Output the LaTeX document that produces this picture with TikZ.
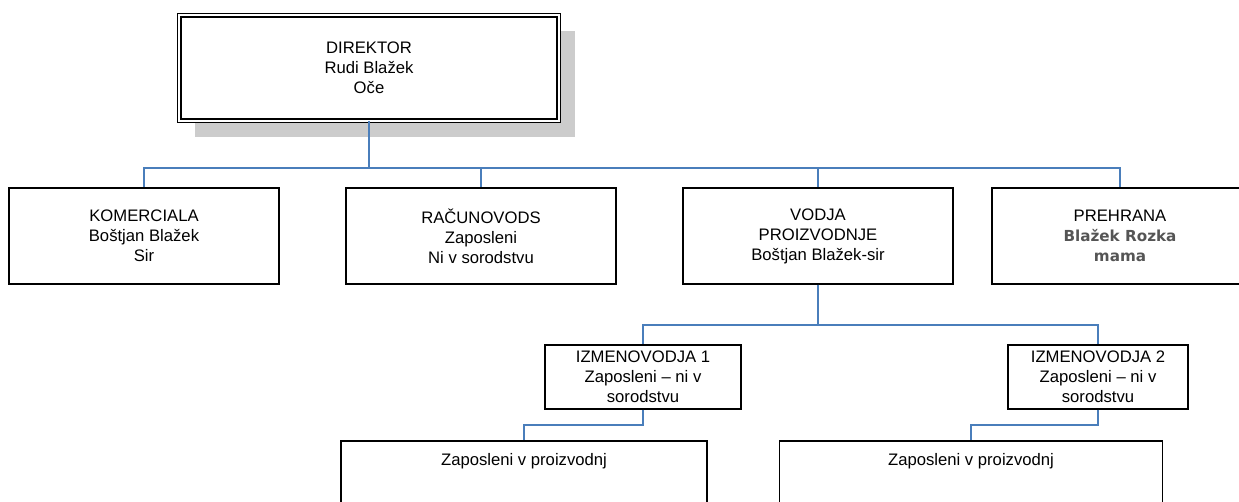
\documentclass[tikz,border=0pt]{standalone}
\usepackage{fontspec}
\setmainfont{Liberation Sans}
\newfontfamily\greyfont{DejaVu Sans}
\usetikzlibrary{shadows}
\definecolor{linkblue}{HTML}{4A7EBB}
\definecolor{namegrey}{HTML}{555555}

\begin{document}
\begin{tikzpicture}[x=0.75pt, y=-0.75pt,
    box/.style={draw, fill=white, line width=0.9pt, align=center, inner sep=0pt,
        font=\fontsize{12.5}{15}\selectfont},
    headbox/.style={box, double, double distance=1.6pt,
        general shadow={fill=black!20, shadow xshift=12pt, shadow yshift=-12pt}},
    link/.style={draw=linkblue, line width=1.1pt}]
    \useasboundingbox (0,0) rectangle (1239,501);
    \clip (0,0) rectangle (1239,501);

    \node[headbox, minimum width=284.6pt, minimum height=79pt] (dir) at (369,68)
        {DIREKTOR\\Rudi Blažek\\Oče};

    \node[box, minimum width=202.5pt, minimum height=72pt] (kom) at (144,236)
        {KOMERCIALA\\Boštjan Blažek\\Sir};
    \node[box, minimum width=202.5pt, minimum height=72pt] (rac) at (481,236)
        {RAČUNOVODS\\Zaposleni\\Ni v sorodstvu};
    \node[box, minimum width=202.5pt, minimum height=72pt] (vod) at (818,236)
        {VODJA\\PROIZVODNJE\\Boštjan Blažek-sir};
    \node[box, minimum width=192pt, minimum height=72pt] (preh) at (1120,236)
        {PREHRANA\\{\greyfont\bfseries\fontsize{11.4}{15}\selectfont\color{namegrey}Blažek Rozka}\\{\greyfont\bfseries\fontsize{11.4}{15}\selectfont\color{namegrey}mama}};

    \node[box, minimum width=147pt, minimum height=48pt] (izm1) at (643,377)
        {IZMENOVODJA 1\\Zaposleni – ni v\\sorodstvu};
    \node[box, minimum width=135pt, minimum height=48pt] (izm2) at (1098,377)
        {IZMENOVODJA 2\\Zaposleni – ni v\\sorodstvu};

    \node[box, minimum width=274.5pt, minimum height=75pt,
        label={[anchor=center, yshift=-15.75pt, font=\fontsize{12.5}{15}\selectfont]north:Zaposleni v proizvodnj}]
        (zap1) at (524,491) {};
    \node[box, minimum width=287.25pt, minimum height=75pt,
        label={[anchor=center, yshift=-15.75pt, font=\fontsize{12.5}{15}\selectfont]north:Zaposleni v proizvodnj}]
        (zap2) at (971,491) {};

    \coordinate (bus1) at (0,168);
    \coordinate (bus2) at (0,325);
    \coordinate (bus3) at (0,425);

    \foreach \child in {kom,rac,vod,preh}
        \draw[link] (dir.south) -- (dir.south |- bus1) -| (\child.north);
    \foreach \child in {izm1,izm2}
        \draw[link] (vod.south) -- (vod.south |- bus2) -| (\child.north);
    \draw[link] (izm1.south) -- (izm1.south |- bus3) -| (zap1.north);
    \draw[link] (izm2.south) -- (izm2.south |- bus3) -| (zap2.north);
\end{tikzpicture}
\end{document}
